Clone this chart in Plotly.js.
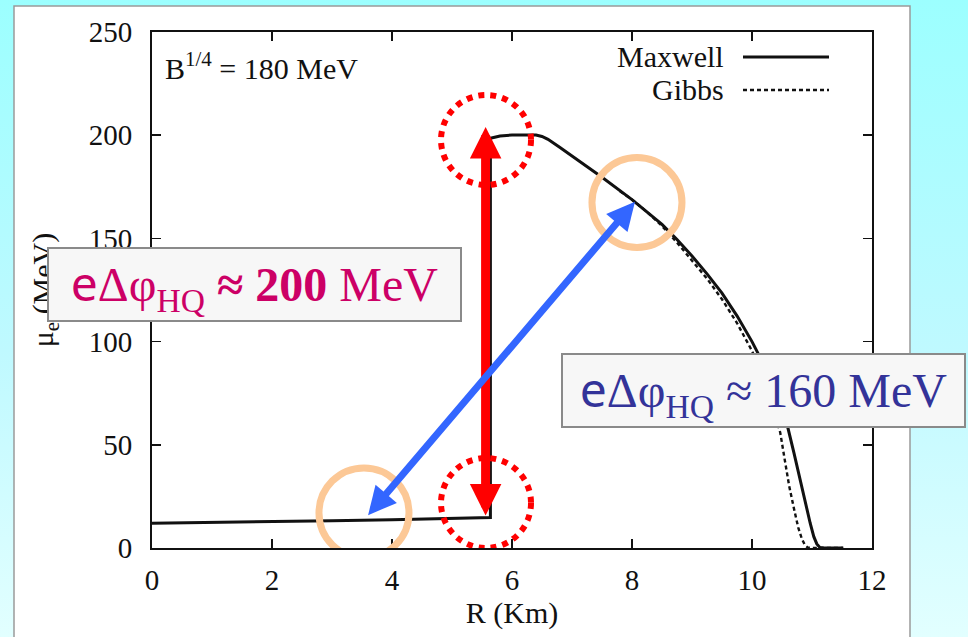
<!DOCTYPE html>
<html><head><meta charset="utf-8">
<script src="https://cdn.plot.ly/plotly-3.0.1.min.js"></script>
<style>
html,body{margin:0;padding:0;width:968px;height:637px;overflow:hidden;
background:linear-gradient(to bottom,#9cffff 0%,#bff9ff 55%,#e2ffff 100%);}
#chart{width:968px;height:637px;}
</style></head><body><div id="chart"></div>
<script>
// ---- data ----
const maxwellR  = [0, 1, 2, 3, 4, 5, 5.64, 5.64, 5.7, 5.8, 6.0, 6.2, 6.4, 6.5, 6.6, 6.8, 7.0, 7.5, 8.0, 8.25, 8.5, 8.75, 9.0, 9.25, 9.5, 9.75, 10.0, 10.15, 10.3, 10.45, 10.6, 10.7, 10.8, 10.9, 10.97, 11.03, 11.08, 11.13, 11.2, 11.52];
const maxwellMu = [12.0, 12.3, 12.7, 13.2, 13.7, 14.4, 14.8, 198.5, 199.0, 199.6, 200.1, 200.2, 200.1, 199.4, 198.0, 194.0, 190.0, 179.6, 168.8, 163.0, 156.8, 149.5, 141.5, 132.8, 123.5, 112.5, 100.0, 91.5, 82.5, 71.0, 58.0, 46.0, 33.0, 20.0, 12.0, 5.5, 2.0, 0.3, 0, 0];
const gibbsR    = [7.8, 8.0, 8.25, 8.5, 8.75, 9.0, 9.25, 9.5, 9.75, 10.0, 10.15, 10.3, 10.4, 10.47, 10.55, 10.62, 10.7, 10.77, 10.83, 10.88, 10.93, 11.0, 11.52];
const gibbsMu   = [172.8, 168.8, 162.8, 156.0, 148.0, 139.5, 130.5, 120.5, 109.0, 95.5, 85.5, 73.0, 63.0, 56.0, 42.0, 30.0, 19.0, 10.0, 4.5, 1.5, 0.2, 0, 0];
const seriesNames = ['Maxwell', 'Gibbs'];
const xTickVals = [0, 2, 4, 6, 8, 10, 12];
const yTickVals = [0, 50, 100, 150, 200, 250];
const xTitle = 'R (Km)';
const yTitle = 'μ<sub>e</sub> (MeV)';
const bagText = 'B<sup>1/4</sup> = 180 MeV';
// annotation anchors (R in km, mu in MeV)
const redArrowR  = [5.56, 5.56];
const redArrowMu = [15.0, 204.0];
const blueArrowR  = [3.58, 8.05];
const blueArrowMu = [15.2, 167.8];
const redCircleR  = [5.567, 5.567];
const redCircleMu = [197.7, 21.8];
const orangeCircleR  = [3.533, 8.083];
const orangeCircleMu = [17.0, 167.4];
const label200 = '<span style="font-family:\'Noto Sans\'">e</span>Δφ<sub>HQ</sub> <b>≈ 200</b> MeV';
const label160 = '<span style="font-family:\'Noto Sans\'">e</span>Δφ<sub>HQ</sub> ≈ 160 MeV';

const SERIF = 'Liberation Serif, Times New Roman, serif';

const traces = [
  {x: maxwellR, y: maxwellMu, name: seriesNames[0], mode: 'lines', type: 'scatter',
   line: {color: '#111', width: 3}, showlegend: false},
  {x: gibbsR, y: gibbsMu, name: seriesNames[1], mode: 'lines', type: 'scatter',
   line: {color: '#111', width: 2.4, dash: '4px,3px'}, showlegend: false}
];

function circleShape(cx, cy, r, color, width, dash) {
  return {type: 'circle', xref: 'x', yref: 'y', xsizemode: 'pixel', ysizemode: 'pixel',
    xanchor: cx, yanchor: cy, x0: -r, x1: r, y0: -r, y1: r,
    line: {color: color, width: width, dash: dash}, layer: 'above'};
}

const shapes = [
  // white panel behind the chart
  {type: 'rect', xref: 'paper', yref: 'paper', x0: (14-152)/720, x1: (910-152)/720,
   y0: (548-645)/516, y1: (548-6)/516, fillcolor: '#ffffff',
   line: {color: '#9a9a9a', width: 1.5}, layer: 'below'},
  // legend samples
  {type: 'line', xref: 'paper', yref: 'paper', x0: (743-152)/720, x1: (829-152)/720,
   y0: (548-57)/516, y1: (548-57)/516, line: {color: '#111', width: 3}},
  {type: 'line', xref: 'paper', yref: 'paper', x0: (743-152)/720, x1: (829-152)/720,
   y0: (548-90)/516, y1: (548-90)/516, line: {color: '#111', width: 2.4, dash: '4px,3px'}},
  circleShape(redCircleR[0], redCircleMu[0], 45, '#ff0000', 6, '6px,6px'),
  circleShape(redCircleR[1], redCircleMu[1], 45, '#ff0000', 6, '6px,6px'),
  circleShape(orangeCircleR[0], orangeCircleMu[0], 45, '#fcc896', 7, 'solid'),
  circleShape(orangeCircleR[1], orangeCircleMu[1], 45, '#fcc896', 7, 'solid')
];

const annotations = [
  {xref: 'paper', yref: 'paper', x: (163-152)/720, y: (548-66)/516, xanchor: 'left', yanchor: 'middle',
   text: bagText, showarrow: false, font: {family: SERIF, size: 30, color: '#111'}},
  {xref: 'paper', yref: 'paper', x: (726-152)/720, y: (548-57)/516, xanchor: 'right', yanchor: 'middle',
   text: seriesNames[0], showarrow: false, font: {family: SERIF, size: 30, color: '#111'}},
  {xref: 'paper', yref: 'paper', x: (726-152)/720, y: (548-90)/516, xanchor: 'right', yanchor: 'middle',
   text: seriesNames[1], showarrow: false, font: {family: SERIF, size: 30, color: '#111'}},
  // red vertical double arrow
  {x: redArrowR[1], y: redArrowMu[1], ax: redArrowR[0], ay: redArrowMu[0],
   xref: 'x', yref: 'y', axref: 'x', ayref: 'y', text: '', showarrow: true,
   arrowhead: 2, startarrowhead: 2, arrowside: 'end+start', arrowwidth: 9,
   arrowsize: 0.7, startarrowsize: 0.7, arrowcolor: '#ff0000', standoff: 0, startstandoff: 0},
  // blue diagonal double arrow
  {x: blueArrowR[1], y: blueArrowMu[1], ax: blueArrowR[0], ay: blueArrowMu[0],
   xref: 'x', yref: 'y', axref: 'x', ayref: 'y', text: '', showarrow: true,
   arrowhead: 2, startarrowhead: 2, arrowside: 'end+start', arrowwidth: 7,
   arrowsize: 0.8, startarrowsize: 0.8, arrowcolor: '#3366ff', standoff: 0, startstandoff: 0},
  // label boxes
  {xref: 'paper', yref: 'paper', x: (254.5-152)/720, y: (548-284.5)/516, xanchor: 'center', yanchor: 'middle',
   text: label200, showarrow: false, width: 411, height: 71, borderpad: 0, borderwidth: 2,
   bordercolor: '#8a8a8a', bgcolor: '#f7f7f7', font: {family: SERIF, size: 48, color: '#cc0066'}},
  {xref: 'paper', yref: 'paper', x: (763.5-152)/720, y: (548-390.5)/516, xanchor: 'center', yanchor: 'middle',
   text: label160, showarrow: false, width: 401, height: 71, borderpad: 0, borderwidth: 2,
   bordercolor: '#8a8a8a', bgcolor: '#f7f7f7', font: {family: SERIF, size: 48, color: '#333399'}}
];

const axisCommon = {
  showline: true, linecolor: '#111', linewidth: 2, mirror: 'ticks',
  ticks: 'inside', ticklen: 9, tickwidth: 1.5, tickcolor: '#111',
  showgrid: false, zeroline: false,
  tickfont: {family: SERIF, size: 29, color: '#111'}
};

const layout = {
  width: 968, height: 637,
  margin: {l: 152, r: 96, t: 32, b: 89},
  paper_bgcolor: 'rgba(0,0,0,0)', plot_bgcolor: '#ffffff',
  showlegend: false,
  xaxis: Object.assign({}, axisCommon, {range: [0, 12], tickvals: xTickVals, ticklabelstandoff: 5,
    title: {text: xTitle, font: {family: SERIF, size: 30, color: '#111'}, standoff: 0}}),
  yaxis: Object.assign({}, axisCommon, {range: [0, 250], tickvals: yTickVals, ticklabelstandoff: 12,
    title: {text: yTitle, font: {family: SERIF, size: 30, color: '#111'}, standoff: 26}}),
  shapes: shapes,
  annotations: annotations
};

Plotly.newPlot('chart', traces, layout, {staticPlot: true, displayModeBar: false});
</script></body></html>
